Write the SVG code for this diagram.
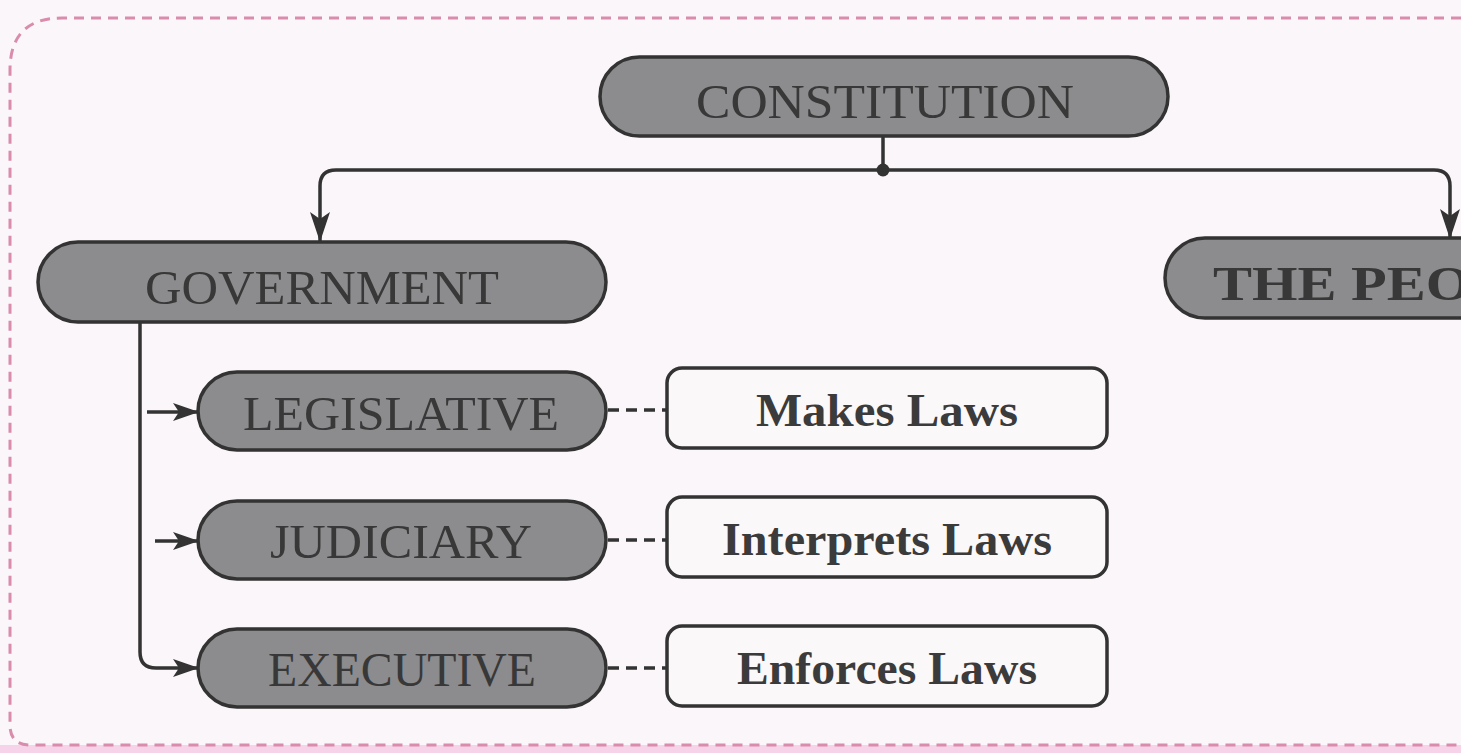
<svg xmlns="http://www.w3.org/2000/svg" width="1461" height="753" viewBox="0 0 1461 753">
<defs>
<style>
.pill{fill:#8c8b8d;stroke:#333;stroke-width:3.5}
.box{fill:#fbf8fa;stroke:#333;stroke-width:3.5}
.pt{font-family:"Liberation Serif","DejaVu Serif",serif;font-size:48px;fill:#383838;text-anchor:middle}
.bt{font-family:"Liberation Serif","DejaVu Serif",serif;font-size:46px;font-weight:bold;fill:#3b3b3b;text-anchor:middle}
.ln{fill:none;stroke:#333;stroke-width:3.5}
.dash{fill:none;stroke:#333;stroke-width:3.5;stroke-dasharray:11 7}
.border{fill:none;stroke:#d98cab;stroke-width:3;stroke-dasharray:10 7}
</style>
<marker id="ah" viewBox="0 0 26 18" refX="25" refY="9" markerWidth="26" markerHeight="18" markerUnits="userSpaceOnUse" orient="auto">
<path d="M0,0 L26,9 L0,18 L6,9 Z" fill="#333"/>
</marker>
<marker id="ahv" viewBox="0 0 30 20" refX="29" refY="10" markerWidth="30" markerHeight="20" markerUnits="userSpaceOnUse" orient="auto">
<path d="M0,0 L30,10 L0,20 L7,10 Z" fill="#333"/>
</marker>
</defs>
<rect x="0" y="0" width="1461" height="753" fill="#fbf6f9"/>
<rect x="0" y="745" width="1461" height="8" fill="#f6d3e8"/>
<path class="border" d="M1461,18 L62,18 Q10,18 10,70 L10,725 Q10,745 30,745 L1461,745"/>

<g id="connectors">
<line class="ln" x1="883" y1="136" x2="883" y2="170"/>
<circle cx="883" cy="170" r="6.5" fill="#333"/>
<path class="ln" marker-end="url(#ahv)" d="M883,170 L336,170 Q320,170 320,186 L320,241"/>
<path class="ln" marker-end="url(#ahv)" d="M883,170 L1434,170 Q1450,170 1450,186 L1450,238"/>
<path class="ln" marker-end="url(#ah)" d="M140,322 L140,652 Q140,668 156,668 L198,668"/>
<line class="ln" marker-end="url(#ah)" x1="147" y1="412" x2="198" y2="412"/>
<line class="ln" marker-end="url(#ah)" x1="155" y1="541" x2="198" y2="541"/>
<line class="dash" x1="608" y1="410" x2="668" y2="410"/>
<line class="dash" x1="608" y1="540" x2="668" y2="540"/>
<line class="dash" x1="608" y1="668" x2="668" y2="668"/>
</g>

<g id="constitution">
<rect class="pill" x="600" y="57" width="568" height="79" rx="39.5"/>
<text class="pt" x="885" y="118" textLength="378" lengthAdjust="spacingAndGlyphs">CONSTITUTION</text>
</g>
<g id="government">
<rect class="pill" x="38" y="242" width="568" height="80" rx="40"/>
<text class="pt" x="322" y="304" textLength="354" lengthAdjust="spacingAndGlyphs">GOVERNMENT</text>
</g>
<g id="the-people">
<rect class="pill" x="1165" y="238" width="400" height="80" rx="40"/>
<text class="pt" x="1213" y="300" style="text-anchor:start;font-weight:600" textLength="372" lengthAdjust="spacingAndGlyphs">THE PEOPLE</text>
</g>
<g id="legislative">
<rect class="pill" x="198" y="372" width="408" height="78" rx="39"/>
<text class="pt" x="401" y="430" textLength="316" lengthAdjust="spacingAndGlyphs">LEGISLATIVE</text>
</g>
<g id="judiciary">
<rect class="pill" x="198" y="501" width="408" height="78" rx="39"/>
<text class="pt" x="401" y="558" textLength="262" lengthAdjust="spacingAndGlyphs">JUDICIARY</text>
</g>
<g id="executive">
<rect class="pill" x="198" y="629" width="408" height="78" rx="39"/>
<text class="pt" x="402" y="686" textLength="268" lengthAdjust="spacingAndGlyphs">EXECUTIVE</text>
</g>
<g id="makes-laws">
<rect class="box" x="667" y="368" width="440" height="80" rx="15"/>
<text class="bt" x="887" y="426" textLength="262" lengthAdjust="spacingAndGlyphs">Makes Laws</text>
</g>
<g id="interprets-laws">
<rect class="box" x="667" y="497" width="440" height="80" rx="15"/>
<text class="bt" x="887" y="555" textLength="330" lengthAdjust="spacingAndGlyphs">Interprets Laws</text>
</g>
<g id="enforces-laws">
<rect class="box" x="667" y="626" width="440" height="80" rx="15"/>
<text class="bt" x="887" y="684" textLength="300" lengthAdjust="spacingAndGlyphs">Enforces Laws</text>
</g>
</svg>
